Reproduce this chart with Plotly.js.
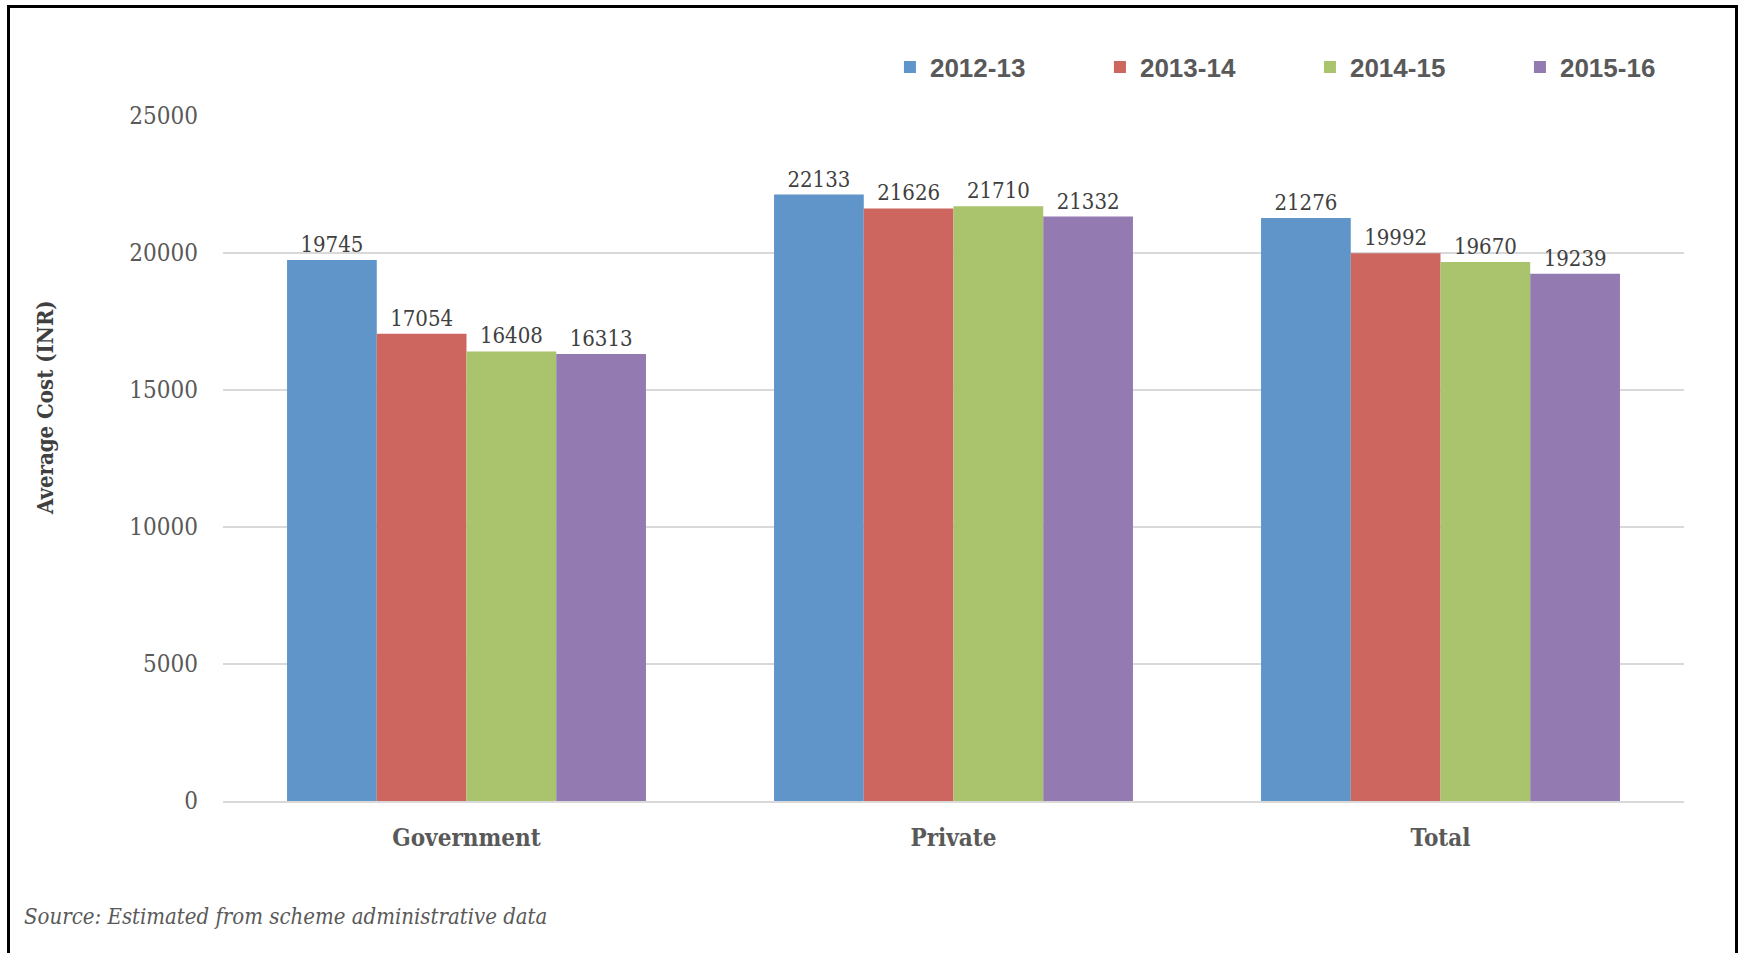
<!DOCTYPE html>
<html>
<head>
<meta charset="utf-8">
<script src="https://cdn.plot.ly/plotly-3.0.1.min.js"></script>
<style>
  html, body { margin: 0; padding: 0; background: #ffffff; overflow: hidden; }
  #chart { position: absolute; left: 0; top: 0; width: 1741px; height: 953px; }
  #frame { position: absolute; left: 7px; top: 5px; width: 1725px; height: 990px;
           border: 3px solid #000; pointer-events: none; }
</style>
</head>
<body>
<div id="chart"></div>
<div id="frame"></div>
<script>
// ---- data ----
const categories = ["Government", "Private", "Total"];
const seriesNames = ["2012-13", "2013-14", "2014-15", "2015-16"];
const values2012_13 = [19745, 22133, 21276];
const values2013_14 = [17054, 21626, 19992];
const values2014_15 = [16408, 21710, 19670];
const values2015_16 = [16313, 21332, 19239];
const yTickValues = [0, 5000, 10000, 15000, 20000, 25000];
const yTitle = "Average Cost (INR)";
const sourceNote = "Source: Estimated from scheme administrative data";

const seriesValues = [values2012_13, values2013_14, values2014_15, values2015_16];
const colors = ["#6095C9", "#CD665F", "#A9C46C", "#937AB0"];

const serif = "'DejaVu Serif Condensed', 'DejaVu Serif', serif";
const narrowSans = "'Liberation Sans Narrow', 'Liberation Sans', sans-serif";

const traces = seriesNames.map((name, i) => ({
  type: "bar",
  name: name,
  x: categories,
  y: seriesValues[i],
  marker: { color: colors[i], line: { width: 0 } },
  text: seriesValues[i].map(v => String(v)),
  textposition: "outside",
  constraintext: "none",
  textfont: { family: serif, size: 22, color: "#404040" },
  cliponaxis: false,
  hoverinfo: "x+y+name"
}));

const layout = {
  width: 1741,
  height: 953,
  paper_bgcolor: "#ffffff",
  plot_bgcolor: "#ffffff",
  margin: { l: 223, r: 57, t: 116, b: 152, pad: 0, autoexpand: false },
  barmode: "group",
  bargap: 0.263,
  bargroupgap: 0,
  showlegend: true,
  legend: {
    orientation: "h",
    x: 0.4565, xanchor: "left",
    y: 1.0715, yanchor: "middle",
    entrywidth: 165, entrywidthmode: "pixels",
    font: { family: narrowSans, size: 26, color: "#595959", weight: "bold" },
    bgcolor: "rgba(0,0,0,0)",
    traceorder: "normal"
  },
  xaxis: {
    type: "category",
    showgrid: false,
    showline: true,
    linecolor: "#D9D9D9",
    linewidth: 2,
    ticks: "",
    ticklabelstandoff: 14,
    tickfont: { family: serif, size: 24, color: "#595959", weight: "bold" },
    fixedrange: true
  },
  yaxis: {
    range: [0, 25000],
    tickvals: yTickValues,
    ticktext: yTickValues.map(v => String(v)),
    showgrid: true,
    gridcolor: "#D9D9D9",
    gridwidth: 2,
    zeroline: false,
    showline: false,
    ticks: "",
    ticklabelstandoff: 24,
    tickfont: { family: serif, size: 24, color: "#595959" },
    fixedrange: true
  },
  annotations: [
    {
      text: "<b>" + yTitle + "</b>",
      xref: "paper", yref: "paper",
      x: -0.1218, y: 0.5737,
      xanchor: "center", yanchor: "middle",
      textangle: -90,
      showarrow: false,
      font: { family: serif, size: 22, color: "#404040" }
    },
    {
      text: "<i>" + sourceNote + "</i>",
      xref: "paper", yref: "paper",
      x: -0.1376, y: -0.1693,
      xanchor: "left", yanchor: "middle",
      showarrow: false,
      font: { family: serif, size: 22, color: "#595959" }
    }
  ]
};

Plotly.newPlot("chart", traces, layout, { displayModeBar: false, staticPlot: true });
</script>
</body>
</html>
